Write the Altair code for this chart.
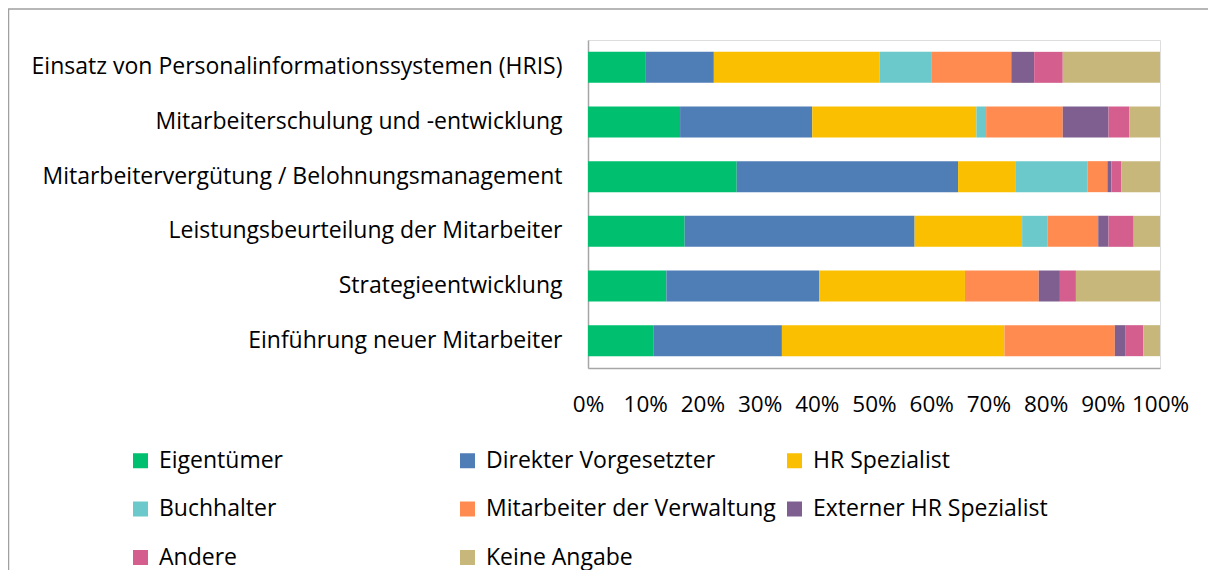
import altair as alt
import pandas as pd

categories = [
    "Einsatz von Personalinformationssystemen (HRIS)",
    "Mitarbeiterschulung und -entwicklung",
    "Mitarbeitervergütung / Belohnungsmanagement",
    "Leistungsbeurteilung der Mitarbeiter",
    "Strategieentwicklung",
    "Einführung neuer Mitarbeiter",
]

series_names = [
    "Eigentümer",
    "Direkter Vorgesetzter",
    "HR Spezialist",
    "Buchhalter",
    "Mitarbeiter der Verwaltung",
    "Externer HR Spezialist",
    "Andere",
    "Keine Angabe",
]

eigentuemer = [10.0, 16.1, 26.0, 16.9, 13.7, 11.5]
direkter_vorgesetzter = [12.0, 23.1, 38.7, 40.2, 26.7, 22.4]
hr_spezialist = [29.0, 28.7, 10.0, 18.8, 25.5, 38.9]
buchhalter = [9.0, 1.7, 12.6, 4.4, 0.0, 0.0]
mitarbeiter_verwaltung = [14.0, 13.4, 3.5, 8.9, 12.9, 19.3]
externer_hr = [4.0, 8.0, 0.7, 1.8, 3.7, 1.9]
andere = [5.0, 3.6, 1.7, 4.4, 2.8, 3.1]
keine_angabe = [17.0, 5.4, 6.8, 4.6, 14.7, 2.9]

colors = ["#00bf6f", "#4f7db5", "#f9bf00", "#6bc8cb", "#ff8b50", "#7e5f8f", "#d45f8f", "#c8b77a"]
x_ticks = [0, 0.1, 0.2, 0.3, 0.4, 0.5, 0.6, 0.7, 0.8, 0.9, 1.0]

all_series = [eigentuemer, direkter_vorgesetzter, hr_spezialist, buchhalter,
              mitarbeiter_verwaltung, externer_hr, andere, keine_angabe]

rows = []
for si, (name, vals) in enumerate(zip(series_names, all_series)):
    for ci, cat in enumerate(categories):
        rows.append({"Kategorie": cat, "Gruppe": name, "Wert": vals[ci], "idx": si})
df = pd.DataFrame(rows)

FONT = "Open Sans"
FS = 23

bars = alt.Chart(df).mark_bar(size=31).encode(
    y=alt.Y("Kategorie:N", sort=categories, title=None,
            scale=alt.Scale(paddingInner=0.43, paddingOuter=0.215),
            axis=alt.Axis(ticks=False, domainColor="#a6a6a6", domainWidth=1.5,
                          labelFontSize=FS, labelPadding=26, labelLimit=700,
                          labelColor="#000000", labelFont=FONT)),
    x=alt.X("Wert:Q", stack="normalize", title=None,
            scale=alt.Scale(domain=[0, 1]),
            axis=alt.Axis(format=".0%", values=x_ticks, grid=False, ticks=False,
                          domainColor="#a6a6a6", domainWidth=1.5, labelFlush=False,
                          labelFontSize=22.5, labelPadding=25, labelColor="#000000",
                          labelFont=FONT)),
    color=alt.Color("Gruppe:N", sort=series_names,
                    scale=alt.Scale(domain=series_names, range=colors),
                    legend=alt.Legend(orient="none", legendX=-459, legendY=409,
                                      direction="horizontal", columns=3, title=None,
                                      symbolType="square",
                                      symbolSize=225, symbolStrokeWidth=0,
                                      labelFontSize=FS, labelOffset=7, labelLimit=500,
                                      rowPadding=24.5, columnPadding=7, gridAlign="all",
                                      labelColor="#000000", labelFont=FONT)),
    order=alt.Order("idx:Q"),
)

border = alt.Chart(alt.Data(values=[{"a": 1}])).mark_rect(
    fill=None, stroke="#a0a0a0", strokeWidth=1.5
).encode(
    x=alt.value(-579.5), x2=alt.value(2000),
    y=alt.value(-31), y2=alt.value(2000),
)

chart = alt.layer(border, bars).properties(
    width=572, height=328,
    autosize=alt.AutoSizeParams(type="none"),
    padding={"left": 580, "top": 32, "right": 48, "bottom": 202},
).configure_view(stroke=None).configure(font=FONT)

chart.save("out.html", embed_options={"renderer": "svg", "actions": False})
